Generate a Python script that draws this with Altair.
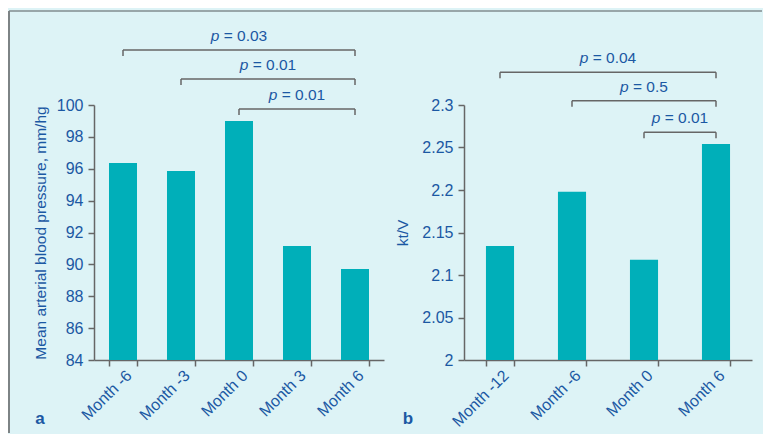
import altair as alt
import pandas as pd

# ---- data ----
months_a = ["Month -6", "Month -3", "Month 0", "Month 3", "Month 6"]
map_a = [96.36, 95.86, 99.0, 91.15, 89.71]

months_b = ["Month -12", "Month -6", "Month 0", "Month 6"]
ktv_b = [2.134, 2.198, 2.118, 2.254]

# brackets: from index, to index, level (data units), p-value
br_a_from = [0, 1, 2]
br_a_to = [4, 4, 4]
br_a_level = [103.45, 101.63, 99.75]
br_a_p = ["0.03", "0.01", "0.01"]

br_b_from = [0, 1, 2]
br_b_to = [3, 3, 3]
br_b_level = [2.3385, 2.305, 2.268]
br_b_p = ["0.04", "0.5", "0.01"]

ticks_a = [84, 86, 88, 90, 92, 94, 96, 98, 100]
ticks_b = [2, 2.05, 2.1, 2.15, 2.2, 2.25, 2.3]

# ---- styles ----
BG = "#DDF3F6"
BAR = "#00AFB9"
AX = "#666666"
TXT = "#1B58A3"
FONT = "Liberation Sans"
FS = 16
PFS = 15.5
PLOT_H = 255


def panel(cats, vals, bf, bt, bl, bp, ymin, ymax, yticks, yfmt, ytitle,
          title_x, pad_inner, drop, letter, letter_x, width, frame=False):
    n = len(cats)
    df = pd.DataFrame({"cat": cats, "val": vals})
    y_scale = alt.Scale(domain=[ymin, ymax], nice=False, zero=False)
    bars = alt.Chart(df).mark_bar(color=BAR).encode(
        x=alt.X("cat:N", sort=cats,
                scale=alt.Scale(paddingInner=pad_inner, paddingOuter=pad_inner / 2),
                axis=alt.Axis(title=None, labelAngle=-45, labelAlign="right",
                              labelBaseline="top", tickBand="extent",
                              labelPadding=1)),
        y=alt.Y("val:Q", scale=y_scale,
                axis=alt.Axis(title=ytitle, values=yticks, format=yfmt,
                              titleX=title_x, titleY=PLOT_H / 2,
                              titleAngle=270, titleBaseline="middle",
                              titleAlign="center", labelPadding=5)),
        y2=alt.datum(ymin),
    )

    bdf = pd.DataFrame({"f": bf, "t": bt, "lvl": bl, "p": bp})
    xq = alt.Scale(domain=[-0.5, n - 0.5], nice=False, zero=False)
    base = alt.Chart(bdf).transform_calculate(
        lo=f"datum.lvl - {drop}",
        mid="(datum.f + datum.t) / 2",
        ptxt="'= ' + datum.p",
    )
    yb = alt.Y("lvl:Q", scale=y_scale, axis=None)
    hline = base.mark_rule(color=AX, strokeWidth=1.5).encode(
        x=alt.X("f:Q", scale=xq, axis=None), x2="t:Q", y=yb)
    lt = base.mark_rule(color=AX, strokeWidth=1.5).encode(
        x=alt.X("f:Q", scale=xq, axis=None), y=yb, y2="lo:Q")
    rt = base.mark_rule(color=AX, strokeWidth=1.5).encode(
        x=alt.X("t:Q", scale=xq, axis=None), y=yb, y2="lo:Q")
    texts = []
    for L in sorted(set(len(p) for p in bp)):
        w = (1.974 + 0.556 * (L - 1)) * PFS
        sub = base.transform_filter(f"length(datum.p) == {L}")
        texts.append(sub.mark_text(text="p", fontStyle="italic", align="left",
                                   baseline="middle", dy=-14, dx=-w / 2,
                                   font=FONT, fontSize=PFS, color=TXT).encode(
            x=alt.X("mid:Q", scale=xq, axis=None), y=yb))
        texts.append(sub.mark_text(align="left", baseline="middle", dy=-14,
                                   dx=-w / 2 + 0.834 * PFS, font=FONT,
                                   fontSize=PFS, color=TXT).encode(
            x=alt.X("mid:Q", scale=xq, axis=None), y=yb, text="ptxt:N"))

    one = pd.DataFrame({"k": [0]})
    lab = alt.Chart(one).mark_text(text=letter, fontWeight="bold", font=FONT,
                                   fontSize=17, color=TXT, align="center",
                                   baseline="middle").encode(
        x=alt.value(letter_x), y=alt.value(314))
    layers = [bars, hline, lt, rt] + texts + [lab]
    if frame:
        ftop = alt.Chart(one).mark_rule(color="#555a5c", strokeWidth=1.2).encode(
            x=alt.value(-85), x2=alt.value(668), y=alt.value(-94))
        fleft = alt.Chart(one).mark_rule(color="#7d8385", strokeWidth=2).encode(
            x=alt.value(-85), y=alt.value(-94), y2=alt.value(328))
        layers = [ftop, fleft] + layers
    return alt.layer(*layers).resolve_scale(x="independent").resolve_axis(
        y="independent").properties(width=width, height=PLOT_H)


pa = panel(months_a, map_a, br_a_from, br_a_to, br_a_level, br_a_p,
           84, 100, ticks_a, "d", "Mean arterial blood pressure, mm/hg",
           -54, 0.517, 0.376, "a", -54, 290, frame=True)
pb = panel(months_b, ktv_b, br_b_from, br_b_to, br_b_level, br_b_p,
           2, 2.3, ticks_b, ".2~f", "kt/V",
           -61.5, 0.61, 0.00706, "b", -56, 288)

chart = alt.hconcat(pa, pb, spacing=80, bounds="flush").properties(
    background=BG,
    padding={"left": 0, "top": 2, "right": 0, "bottom": 0},
).configure_view(stroke=None).configure_axis(
    domainColor=AX, tickColor=AX, domainWidth=1.5, tickWidth=1.5, tickSize=6,
    labelColor=TXT, titleColor=TXT, labelFont=FONT, titleFont=FONT,
    labelFontSize=FS, titleFontSize=15.5, titleFontWeight="normal", grid=False,
)

chart.save("out.html", embed_options={"renderer": "svg", "actions": False})
